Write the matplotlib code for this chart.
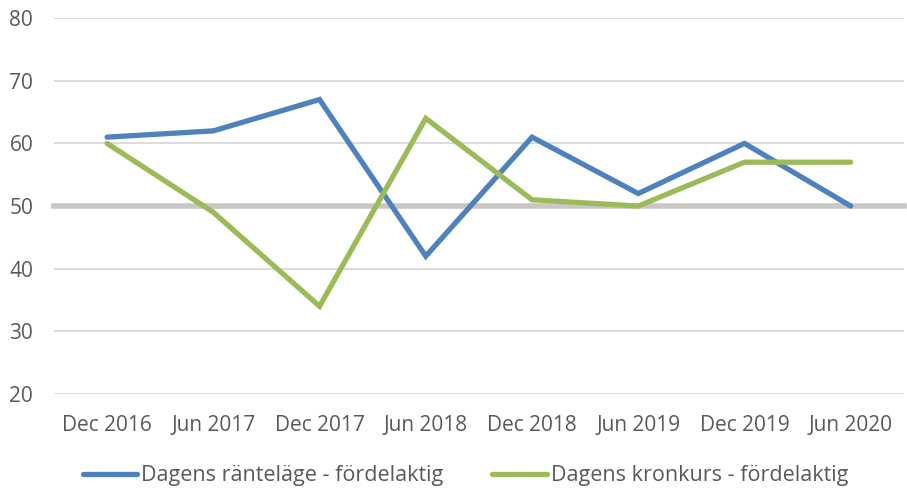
import numpy as np
import matplotlib.pyplot as plt

# data
periods = ['Dec 2016', 'Jun 2017', 'Dec 2017', 'Jun 2018',
           'Dec 2018', 'Jun 2019', 'Dec 2019', 'Jun 2020']
ranta = [61, 62, 67, 42, 61, 52, 60, 50]
kronkurs = [60, 49, 34, 64, 51, 50, 57, 57]
ref_level = 50

plt.rcParams['font.family'] = ['Open Sans', 'DejaVu Sans']

fig = plt.figure(figsize=(9.07, 4.9), dpi=100)
ax = fig.add_axes([0.0595, 0.196, 0.937, 0.767])

x = np.arange(len(periods))
ax.plot(x, ranta, color='#4f81bd', lw=3.8, solid_capstyle='round',
        solid_joinstyle='miter', label='Dagens ränteläge - fördelaktig', zorder=3)
ax.plot(x, kronkurs, color='#9bbb59', lw=3.8, solid_capstyle='round',
        solid_joinstyle='miter', label='Dagens kronkurs - fördelaktig', zorder=3)
ax.axhline(ref_level, color='#c9c6c4', lw=4, zorder=2, clip_on=False)

ax.set_xlim(-0.5, len(periods) - 0.5)
ax.set_ylim(20, 80)
ax.set_yticks(range(20, 81, 10))
ax.set_xticks(x)
ax.set_xticklabels(periods)
ax.grid(axis='y', color='#d9d9d9', lw=1.3, zorder=1)
ax.set_axisbelow(True)
for s in ax.spines.values():
    s.set_visible(False)
ax.tick_params(length=0, labelsize=15, colors='#595959')
ax.tick_params(axis='y', pad=15)
ax.tick_params(axis='x', pad=15)

leg = fig.legend(loc='lower center', bbox_to_anchor=(0.513, -0.014), ncol=2,
                 frameon=False, fontsize=15.5, handlelength=2.55,
                 columnspacing=2.3, handletextpad=0.15, borderpad=0)
for t in leg.get_texts():
    t.set_color('#595959')

fig.savefig('out.png', dpi=100)
